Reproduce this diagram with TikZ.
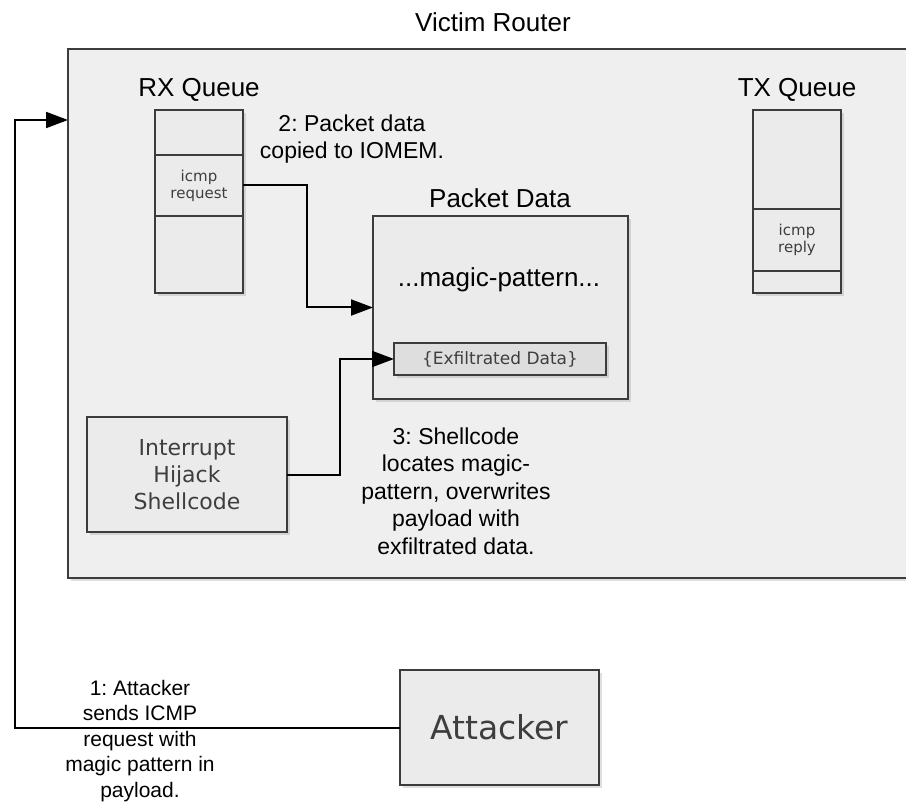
\documentclass[tikz,border=0pt]{standalone}
\usepackage{fontspec}
\setmainfont{Liberation Sans}
\newfontfamily\boxfont{DejaVu Sans}
\usepackage{tikz}
\usetikzlibrary{arrows.meta, positioning, shadows}
\definecolor{rgray}{RGB}{239, 239, 239}
\definecolor{bgray}{RGB}{235, 235, 235}
\definecolor{cgray}{RGB}{222, 222, 222}
\definecolor{lgray}{RGB}{60, 60, 60}
\definecolor{tgray}{RGB}{62, 62, 62}
\newcommand{\fsz}[2]{\fontsize{#1}{#2}\selectfont}
\frenchspacing

\begin{document}
\begin{tikzpicture}[x=1pt, y=-1pt,
      box/.style ={draw=lgray, line width=1.8pt, fill=bgray,
                   inner sep=0pt, outer sep=0pt, align=center, text=tgray,
                   drop shadow={shadow xshift=3pt, shadow yshift=-3pt, opacity=0.25}},
      qcell/.style={box, minimum width=88pt},
      lbl/.style ={font=\fsz{26}{30}, anchor=base},
      note/.style={font=\fsz{23}{27.5}, align=center},
      arr/.style ={-{Triangle[length=22pt, width=16pt]}, line width=2pt},
    ]
      \useasboundingbox (0,0) rectangle (906,805);
      \node[box, fill=rgray, minimum width=862pt, minimum height=529pt,
            anchor=north west] (router) at (68,49) {};
      \node[lbl] (ttl) at (493,32) {Victim Router};

      \node[lbl] (rxlbl) at (199,97) {RX Queue};
      \node[qcell, minimum height=45pt, anchor=north] (rxtop) at (199,110) {};
      \node[qcell, minimum height=61pt, below=0pt of rxtop,
            font=\boxfont\fsz{15}{17}] (rxreq) {icmp\\request};
      \node[qcell, minimum height=77pt, below=0pt of rxreq] (rxbot) {};

      \node[lbl] (txlbl) at (797,97) {TX Queue};
      \node[qcell, minimum height=99pt, anchor=north] (txtop) at (797,110) {};
      \node[qcell, minimum height=62pt, below=0pt of txtop,
            font=\boxfont\fsz{15}{17}] (txrep) {icmp\\reply};
      \node[qcell, minimum height=22pt, below=0pt of txrep] (txbot) {};

      \node[lbl] (pktlbl) at (500,208) {Packet Data};
      \node[box, minimum width=255pt, minimum height=183pt,
            anchor=north west] (pkt) at (373,216) {};
      \node[lbl] (magic) at (499,287) {...magic-pattern...};
      \node[box, fill=cgray, minimum width=212pt, minimum height=32pt,
            anchor=north west, font=\boxfont\fsz{17}{20}] (exfil) at (394,343) {\{Exfiltrated Data\}};

      \node[box, minimum width=200pt, minimum height=115pt, anchor=north west,
            font=\boxfont\fsz{22}{27}] (shell) at (87,417) {Interrupt\\Hijack\\Shellcode};
      \node[box, minimum width=199pt, minimum height=115pt, anchor=north west,
            font=\boxfont\fsz{33}{38}] (att) at (400,670) {Attacker};

      \node[note] (n2) at (352,139) {2: Packet data\\copied to IOMEM.};
      \node[note] (n3) at (456,491) {3: Shellcode\\locates magic-\\pattern, overwrites\\payload with\\exfiltrated data.};
      \node[note, font=\fsz{21}{25.5}] (n1) at (140,741) {1: Attacker\\sends ICMP\\request with\\magic pattern in\\payload.};

      \coordinate (rin) at (68,120);
      \draw[arr] (att.west) -- ++(-385,0) |- (rin);
      \draw[arr] (rxreq.east) -- ++(64,0) |- (pkt.west);
      \draw[arr] (shell.east) -- ++(53,0) |- (exfil.west);
    \end{tikzpicture}
\end{document}
